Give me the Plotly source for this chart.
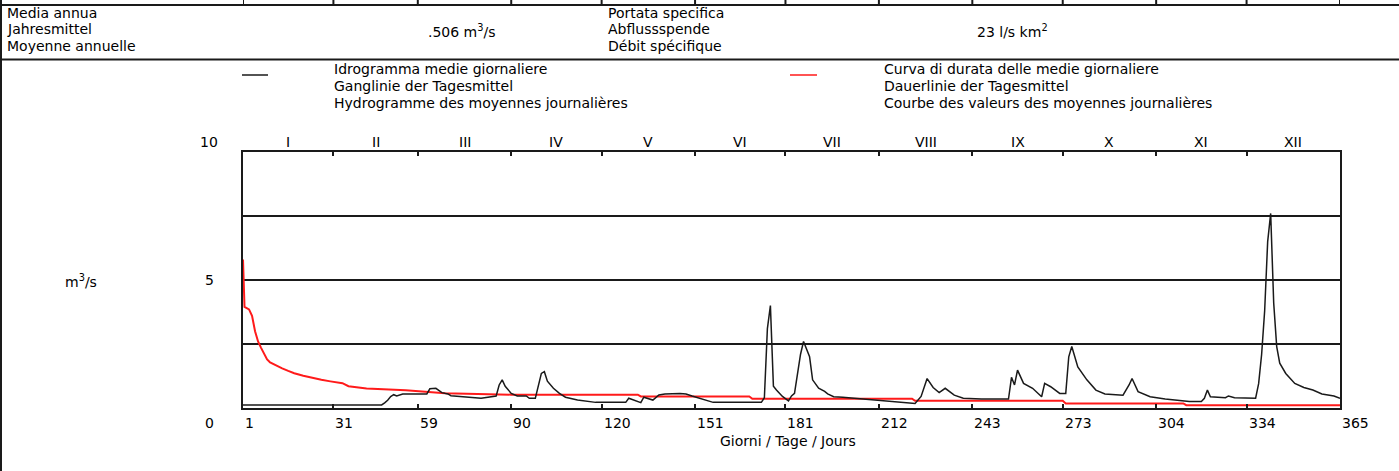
import plotly.graph_objects as go

W, H = 1399, 471


def px(x):
    return x / W


def py(y):
    return 1 - y / H


# ---- data ----
hydro_days = [1, 47, 48, 49, 50, 51, 52, 54, 62, 63, 65, 66, 67, 69, 70, 76, 80, 85, 86, 87, 88, 90,
              92, 95, 96, 98, 99, 100, 101, 102, 104, 106, 108, 112, 118, 128, 129, 131, 133, 134,
              137, 139, 141, 146, 148, 150, 154, 157, 173, 174, 175, 176, 177, 178, 180, 182, 183,
              184, 186, 187, 189, 190, 192, 194, 195, 197, 200, 204, 209, 215, 221, 224, 226, 228,
              230, 232, 234, 237, 240, 246, 255, 256, 257, 258, 260, 263, 266, 267, 269, 272, 274,
              275, 276, 278, 281, 284, 287, 293, 295, 296, 298, 302, 307, 315, 319, 320, 321, 322,
              327, 328, 330, 337, 338, 339, 340, 341, 342, 343, 344, 345, 347, 350, 353, 356, 359,
              363, 365]
hydro_vals = [0.12, 0.12, 0.2, 0.3, 0.45, 0.52, 0.47, 0.55, 0.55, 0.75, 0.77, 0.7, 0.6, 0.55, 0.48,
              0.42, 0.38, 0.47, 0.9, 1.1, 0.85, 0.57, 0.47, 0.47, 0.38, 0.38, 0.9, 1.35, 1.42, 1.05,
              0.77, 0.57, 0.42, 0.31, 0.22, 0.22, 0.38, 0.3, 0.21, 0.42, 0.31, 0.51, 0.55, 0.57,
              0.55, 0.47, 0.31, 0.22, 0.22, 0.4, 3.1, 4.0, 0.85, 0.7, 0.45, 0.28, 0.47, 0.57, 2.1,
              2.6, 2.0, 1.1, 0.77, 0.65, 0.55, 0.44, 0.42, 0.38, 0.31, 0.27, 0.22, 0.18, 0.45, 1.15,
              0.8, 0.6, 0.77, 0.5, 0.38, 0.35, 0.35, 1.2, 0.9, 1.48, 0.96, 0.77, 0.44, 0.96, 0.83,
              0.57, 0.57, 2.0, 2.4, 1.6, 1.1, 0.7, 0.55, 0.5, 0.9, 1.15, 0.64, 0.44, 0.35, 0.25,
              0.25, 0.38, 0.7, 0.44, 0.4, 0.47, 0.4, 0.38, 0.95, 2.1, 3.8, 6.5, 7.6, 4.1, 2.4, 1.75,
              1.35, 0.96, 0.8, 0.7, 0.55, 0.47, 0.38]

dur_days = [1, 1.5, 3, 4, 5, 6, 7, 8, 9, 10, 12, 14, 16, 18, 21, 24, 27, 30, 34, 36, 42, 55, 68, 90,
            132, 133, 169, 170, 223, 224, 273, 274, 313, 314, 365]
dur_vals = [5.8, 3.95, 3.85, 3.6, 3.0, 2.6, 2.35, 2.1, 1.9, 1.78, 1.65, 1.55, 1.45, 1.36, 1.26, 1.17,
            1.1, 1.04, 0.97, 0.85, 0.76, 0.69, 0.58, 0.52, 0.52, 0.45, 0.45, 0.36, 0.36, 0.28, 0.28,
            0.18, 0.18, 0.11, 0.11]

tick_days = [1, 31, 59, 90, 120, 151, 181, 212, 243, 273, 304, 334, 365]
month_labels = ["I", "II", "III", "IV", "V", "VI", "VII", "VIII", "IX", "X", "XI", "XII"]
y_labels = [(10, "10"), (5, "5"), (0, "0")]

mean_text = ".506 m<sup>3</sup>/s"
specific_text = "23 l/s km<sup>2</sup>"
mean_names = ["Media annua", "Jahresmittel", "Moyenne annuelle"]
spec_names = ["Portata specifica", "Abflussspende", "Débit spécifique"]
hydro_names = ["Idrogramma medie giornaliere", "Ganglinie der Tagesmittel",
               "Hydrogramme des moyennes journalières"]
dur_names = ["Curva di durata delle medie giornaliere", "Dauerlinie der Tagesmittel",
             "Courbe des valeurs des moyennes journalières"]

FONT = "DejaVu Sans, Liberation Sans, Arial, sans-serif"
FS = 14
INK = "#1a1a1a"
RED = "#ff1a1a"

fig = go.Figure()
fig.add_trace(go.Scatter(x=dur_days, y=dur_vals, mode="lines",
                         line=dict(color=RED, width=2), showlegend=False,
                         name="Curva di durata"))
fig.add_trace(go.Scatter(x=hydro_days, y=hydro_vals, mode="lines",
                         line=dict(color=INK, width=1.5), showlegend=False,
                         name="Idrogramma"))

ann = []
shapes = []


def text(x, y, s, xanchor="left", xref="paper", yref="paper", yshift=0, size=FS):
    ann.append(dict(x=x, y=y, xref=xref, yref=yref, text=s, showarrow=False,
                    xanchor=xanchor, yanchor="middle", yshift=yshift,
                    font=dict(family=FONT, size=size, color="black")))


def hline(x0, x1, y, w=2):
    shapes.append(dict(type="line", xref="paper", yref="paper", x0=px(x0), x1=px(x1),
                       y0=py(y), y1=py(y), line=dict(color=INK, width=w)))


# top table row
hline(0, W, 5)
hline(0, W, 59.5)
shapes.append(dict(type="line", xref="paper", yref="paper", x0=px(1), x1=px(1),
                   y0=py(0), y1=py(H), line=dict(color=INK, width=2)))
for d in tick_days:
    shapes.append(dict(type="line", xref="x", yref="paper", x0=d, x1=d,
                       y0=py(0), y1=py(5), line=dict(color=INK, width=2)))

for i, s in enumerate(mean_names):
    text(px(5), py(13 + 16.5 * i), s)
    text(px(606), py(13 + 16.5 * i), spec_names[i])
text(px(426), py(31), mean_text)
text(px(975), py(31), specific_text)

# legend
for i, s in enumerate(hydro_names):
    text(px(332), py(69 + 17 * i), s)
    text(px(882), py(69 + 17 * i), dur_names[i])
shapes.append(dict(type="line", xref="paper", yref="paper", x0=px(242), x1=px(268),
                   y0=py(75), y1=py(75), line=dict(color=INK, width=1.5)))
shapes.append(dict(type="line", xref="paper", yref="paper", x0=px(790), x1=px(817),
                   y0=py(75), y1=py(75), line=dict(color=RED, width=1.5)))

# axis labels
text(px(63), py(281), "m<sup>3</sup>/s")
for v, s in y_labels:
    shift = 10 if v == 10 else (-15 if v == 0 else 0)
    text(px(209), v, s, xanchor="center", yref="y", yshift=shift)
for d in tick_days:
    text(d, py(423), str(d), xref="x")
for i, m in enumerate(month_labels):
    text((tick_days[i] + tick_days[i + 1]) / 2, py(142), m, xanchor="center", xref="x")
text(px(718), py(441), "Giorni / Tage / Jours")

fig.update_layout(
    width=W, height=H, margin=dict(l=0, r=0, t=0, b=0),
    paper_bgcolor="white", plot_bgcolor="white",
    xaxis=dict(domain=[px(243), px(1340)], range=[1, 365], tickvals=tick_days[1:-1],
               ticks="inside", ticklen=4, tickwidth=2, tickcolor=INK, showticklabels=False,
               showgrid=False, zeroline=False, showline=True, linecolor=INK, linewidth=2,
               mirror="ticks"),
    yaxis=dict(domain=[py(408), py(152)], range=[0, 10], tickvals=[2.5, 5, 7.5],
               showticklabels=False, ticks="", showgrid=True, gridcolor=INK, gridwidth=1.5,
               zeroline=False, showline=True, linecolor=INK, linewidth=2, mirror=True),
    annotations=ann, shapes=shapes,
)

fig.write_html("out.html", config={"displayModeBar": False},
               post_script="document.body.style.margin='0';")
